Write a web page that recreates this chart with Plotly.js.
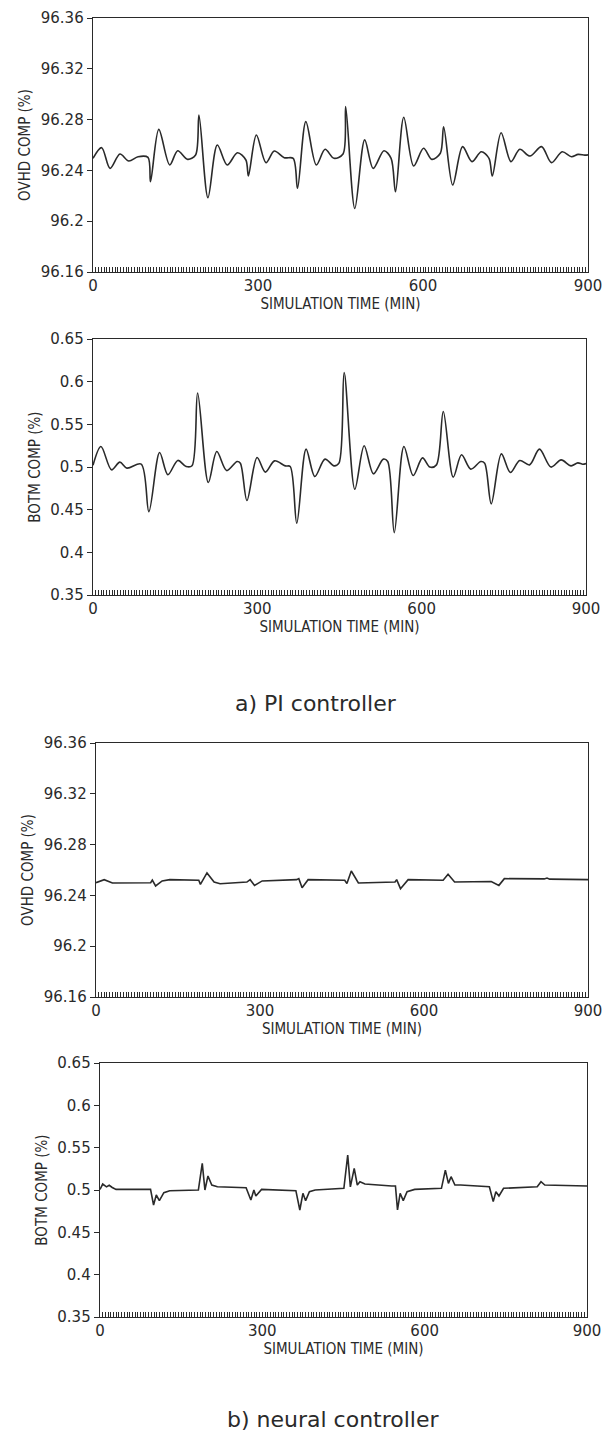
<!DOCTYPE html>
<html>
<head>
<meta charset="utf-8">
<script src="https://cdn.plot.ly/plotly-3.0.1.min.js"></script>
<style>html,body{margin:0;padding:0;background:#fff;}#chart{width:604px;height:1433px;}</style>
</head>
<body>
<div id="chart"></div>
<script>
// ---------- data ----------
const xTickVals = [0, 300, 600, 900];
const xTickText = ['0', '300', '600', '900'];
const ovhdTickVals = [96.16, 96.2, 96.24, 96.28, 96.32, 96.36];
const ovhdTickText = ['96.16', '96.2', '96.24', '96.28', '96.32', '96.36'];
const botmTickVals = [0.35, 0.4, 0.45, 0.5, 0.55, 0.6, 0.65];
const botmTickText = ['0.35', '0.4', '0.45', '0.5', '0.55', '0.6', '0.65'];

// a) PI controller – overhead composition
const piOvhdT = [0, 15.7, 31, 49, 65, 82, 100, 104.5, 119.6, 139.5, 154, 172, 186.5, 192.6, 209, 226, 244, 262.6, 278, 282.5, 297, 314.5, 329.6, 347.7, 364, 371.8, 387, 406, 422, 438, 454.6, 459.4, 476, 494, 509.5, 529, 542, 550, 565, 583, 601, 616, 631.5, 637.5, 654, 672, 689, 706, 720, 726, 742, 760, 776, 794.5, 815.5, 833.6, 853, 870, 882, 894, 900];
const piOvhdV = [96.2495, 96.2579, 96.2416, 96.2529, 96.2474, 96.2508, 96.2503, 96.2311, 96.2723, 96.2443, 96.2555, 96.2487, 96.2521, 96.2836, 96.2185, 96.2600, 96.2443, 96.2539, 96.2482, 96.2356, 96.2679, 96.2461, 96.2553, 96.2500, 96.2495, 96.2259, 96.2784, 96.2443, 96.2566, 96.2495, 96.2529, 96.2902, 96.2100, 96.2640, 96.2416, 96.2555, 96.2495, 96.2232, 96.2818, 96.2435, 96.2574, 96.2487, 96.2535, 96.2744, 96.2285, 96.2587, 96.2469, 96.2547, 96.2495, 96.2356, 96.2697, 96.2469, 96.2566, 96.2513, 96.2587, 96.2461, 96.2547, 96.2508, 96.2526, 96.2520, 96.2522];

// a) PI controller – bottom composition
const piBotmT = [0, 14.5, 33.8, 49, 62, 88, 102, 121.6, 136.7, 154.8, 170, 180.7, 191, 210.5, 226, 244, 263, 269, 281, 299.5, 314.6, 331.5, 351, 360, 372, 389, 405, 423.5, 440, 449, 458.5, 478, 495, 512, 530, 538, 550, 567.6, 584.6, 601.5, 615, 627, 639.5, 657.6, 672.8, 689.7, 708, 715, 727, 745.5, 762, 779, 797, 815, 836, 854.6, 872.7, 885, 894, 900];
const piBotmV = [0.502, 0.524, 0.4967, 0.5057, 0.4987, 0.5034, 0.4477, 0.517, 0.491, 0.5077, 0.5006, 0.5014, 0.5867, 0.4818, 0.5181, 0.4958, 0.5064, 0.5045, 0.4607, 0.5111, 0.494, 0.5072, 0.5013, 0.5006, 0.4341, 0.5209, 0.4888, 0.5092, 0.5013, 0.5045, 0.6108, 0.474, 0.5249, 0.492, 0.5092, 0.5064, 0.4231, 0.524, 0.490, 0.5107, 0.4999, 0.5025, 0.565, 0.4881, 0.5143, 0.4975, 0.5064, 0.5045, 0.4568, 0.5154, 0.4935, 0.5076, 0.5025, 0.5209, 0.4999, 0.5083, 0.5013, 0.5048, 0.5033, 0.504];

// b) neural controller – overhead composition
const nnOvhdT = [0, 15, 30, 100, 103, 109, 121, 135, 188, 191, 203, 216, 227, 276, 282, 290, 304, 367, 371, 377, 388, 455, 459, 467, 480, 547, 550, 557, 571, 635, 644, 656, 723, 737, 747, 820, 825, 830, 900];
const nnOvhdV = [96.2500, 96.2524, 96.2498, 96.2500, 96.2520, 96.2474, 96.2514, 96.2524, 96.2519, 96.2487, 96.2577, 96.2505, 96.2492, 96.2505, 96.2524, 96.2479, 96.2514, 96.2524, 96.2532, 96.2460, 96.2524, 96.2519, 96.2493, 96.2592, 96.2498, 96.2505, 96.2524, 96.2453, 96.2524, 96.2519, 96.2566, 96.2505, 96.2510, 96.2479, 96.2532, 96.2530, 96.2537, 96.2528, 96.2524];

// b) neural controller – bottom composition
const nnBotmT = [0, 5, 12, 17, 22.6, 29.7, 89.9, 93.4, 99, 104, 109.7, 118, 128.8, 181.8, 185.4, 189, 193.9, 199.5, 206.6, 217, 270, 278.8, 284.4, 288, 298.6, 362, 369.3, 375, 380, 387, 397.6, 450.7, 457.8, 462.7, 469.8, 475.5, 480.4, 489.6, 539, 546, 549.8, 554.7, 560.4, 567.5, 581.6, 631, 638.2, 643.9, 648.8, 655.9, 666.5, 719.6, 726.7, 731.6, 737.3, 745.8, 808, 815, 822, 900];
const nnBotmV = [0.5007, 0.507, 0.5037, 0.5056, 0.503, 0.5007, 0.5007, 0.5007, 0.4823, 0.4941, 0.4874, 0.4969, 0.4992, 0.500, 0.5157, 0.5314, 0.500, 0.5165, 0.5059, 0.5039, 0.5027, 0.4882, 0.500, 0.4929, 0.5007, 0.4992, 0.4764, 0.4961, 0.4874, 0.498, 0.500, 0.502, 0.5412, 0.5037, 0.5255, 0.5059, 0.5098, 0.507, 0.5047, 0.5047, 0.4764, 0.4961, 0.4874, 0.498, 0.5007, 0.502, 0.5235, 0.5078, 0.5157, 0.5059, 0.5059, 0.5039, 0.4863, 0.498, 0.4929, 0.502, 0.5039, 0.5098, 0.5059, 0.5047];

const xTitle = 'SIMULATION TIME (MIN)';
const ovhdTitle = 'OVHD COMP (%)';
const botmTitle = 'BOTM COMP (%)';
const captionA = 'a) PI controller';
const captionB = 'b) neural controller';

// ---------- layout helpers ----------
const W = 604, H = 1433;
const INK = '#2a2a2a';
const tickFont = {family: 'DejaVu Sans, Verdana, sans-serif', size: 15, color: INK};
const titleFont = {family: 'DejaVu Sans Condensed, Liberation Sans Narrow, sans-serif', size: 15, color: INK};

function px2x(a, b) { return [a / W, b / W]; }
function px2y(top, bottom) { return [1 - bottom / H, 1 - top / H]; }

function xAxis(dom, anchor) {
  return {
    domain: dom, anchor: anchor, range: [0, 900], showgrid: false, zeroline: false,
    showline: true, linecolor: INK, linewidth: 1.3, mirror: true,
    tickmode: 'array', tickvals: xTickVals, ticktext: xTickText,
    ticks: 'inside', ticklen: 5, tickwidth: 1, tickcolor: INK,
    minor: {dtick: 5, ticks: 'inside', ticklen: 5, tickwidth: 1, tickcolor: INK, showgrid: false},
    tickfont: tickFont,
    title: {text: xTitle, font: titleFont, standoff: 2}
  };
}
function yAxis(dom, anchor, range, vals, text, title) {
  return {
    domain: dom, anchor: anchor, range: range, showgrid: false, zeroline: false,
    showline: true, linecolor: INK, linewidth: 1.3, mirror: true,
    tickmode: 'array', tickvals: vals, ticktext: text,
    ticks: 'outside', ticklen: 5, tickwidth: 1, tickcolor: INK,
    tickfont: tickFont,
    title: {text: title, font: titleFont, standoff: 6}
  };
}

const lineStyle = {color: INK, width: 1.6};
const traces = [
  {x: piOvhdT, y: piOvhdV, xaxis: 'x', yaxis: 'y', type: 'scatter', mode: 'lines', line: Object.assign({shape: 'spline', smoothing: 0.9}, lineStyle), hoverinfo: 'skip'},
  {x: piBotmT, y: piBotmV, xaxis: 'x2', yaxis: 'y2', type: 'scatter', mode: 'lines', line: Object.assign({shape: 'spline', smoothing: 0.9}, lineStyle), hoverinfo: 'skip'},
  {x: nnOvhdT, y: nnOvhdV, xaxis: 'x3', yaxis: 'y3', type: 'scatter', mode: 'lines', line: Object.assign({shape: 'linear'}, lineStyle), hoverinfo: 'skip'},
  {x: nnBotmT, y: nnBotmV, xaxis: 'x4', yaxis: 'y4', type: 'scatter', mode: 'lines', line: Object.assign({shape: 'linear'}, lineStyle), hoverinfo: 'skip'}
];

const layout = {
  width: W, height: H, showlegend: false,
  paper_bgcolor: '#ffffff', plot_bgcolor: '#ffffff',
  margin: {l: 0, r: 0, t: 0, b: 0},
  xaxis: xAxis(px2x(93, 588), 'y'),
  yaxis: yAxis(px2y(18, 272), 'x', [96.16, 96.36], ovhdTickVals, ovhdTickText, ovhdTitle),
  xaxis2: xAxis(px2x(93, 586), 'y2'),
  yaxis2: yAxis(px2y(339, 595), 'x2', [0.35, 0.65], botmTickVals, botmTickText, botmTitle),
  xaxis3: xAxis(px2x(96, 588), 'y3'),
  yaxis3: yAxis(px2y(743, 997), 'x3', [96.16, 96.36], ovhdTickVals, ovhdTickText, ovhdTitle),
  xaxis4: xAxis(px2x(100, 587), 'y4'),
  yaxis4: yAxis(px2y(1063, 1317), 'x4', [0.35, 0.65], botmTickVals, botmTickText, botmTitle),
  annotations: [
    {text: captionA, xref: 'paper', yref: 'paper', x: 233 / W, y: 1 - 703 / H, xanchor: 'left', yanchor: 'middle', showarrow: false, font: {family: 'DejaVu Sans, sans-serif', size: 22, color: INK}},
    {text: captionB, xref: 'paper', yref: 'paper', x: 225 / W, y: 1 - 1419 / H, xanchor: 'left', yanchor: 'middle', showarrow: false, font: {family: 'DejaVu Sans, sans-serif', size: 22, color: INK}}
  ]
};

Plotly.newPlot('chart', traces, layout, {staticPlot: true, displayModeBar: false});
</script>
</body>
</html>
